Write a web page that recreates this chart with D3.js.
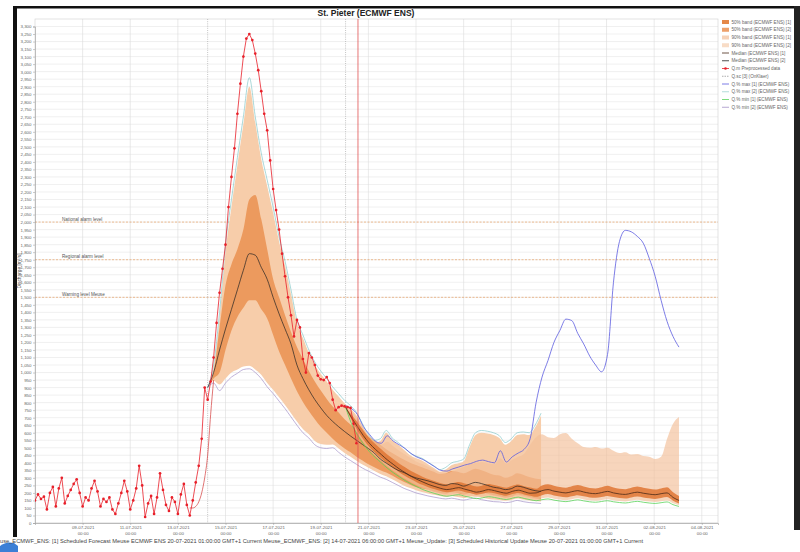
<!DOCTYPE html>
<html>
<head>
<meta charset="utf-8">
<script src="https://cdn.jsdelivr.net/npm/d3@7"></script>
<style>
  body { margin: 0; background: #fff; }
  svg { display: block; font-family: "Liberation Sans", Arial, sans-serif; }
</style>
</head>
<body>
<div id="chart"></div>
<script>
const TITLE = "St. Pieter (ECMWF ENS)";
const Y_LABEL = "Discharge [m³/s]";
// the left end of the status line is hidden behind the window edge in the screenshot
const FOOTER = "use_ECMWF_ENS: [1] Scheduled Forecast Meuse ECMWF ENS 20-07-2021 01:00:00 GMT+1 Current Meuse_ECMWF_ENS: [2] 14-07-2021 06:00:00 GMT+1 Meuse_Update: [3] Scheduled Historical Update Meuse 20-07-2021 01:00:00 GMT+1 Current";

const X_DOMAIN = ["2021-07-07 00:00", "2021-08-04 16:20"];
const X_TICKS = ["2021-07-09", "2021-07-11", "2021-07-13", "2021-07-15", "2021-07-17", "2021-07-19", "2021-07-21",
                 "2021-07-23", "2021-07-25", "2021-07-27", "2021-07-29", "2021-07-31", "2021-08-02", "2021-08-04"];
const Y_MAX = 3300, Y_STEP = 50;

const thresholds = [
  { label: "National alarm level", value: 2000 },
  { label: "Regional alarm level", value: 1750 },
  { label: "Warning level Meuse",  value: 1500 }
];

const FC2_ISSUE = "2021-07-14 06:00";
const FC1_ISSUE = "2021-07-20 01:00";
const NOW = "2021-07-20 13:30";

// observed (preprocessed) discharge, 3-hourly from 07-07 00:00
const OBS_START = "2021-07-07 00:00", OBS_STEP = 3;
const obsQ = [150, 190, 160, 175, 90, 200, 240, 110, 230, 300, 130, 180, 220, 260, 290, 200, 110, 170, 150, 230,
  280, 210, 110, 160, 140, 170, 90, 60, 130, 200, 280, 210, 90, 150, 230, 380, 250, 40, 130, 180,
  60, 170, 330, 220, 120, 80, 170, 140, 60, 190, 260, 120, 50, 150, 270, 380, 560, 900, 820, 940,
  1100, 1330, 1530, 1690, 1850, 2100, 2300, 2490, 2720, 2920, 3100, 3220, 3250, 3210, 3120, 3010, 2870, 2720, 2610, 2410,
  2220, 2080, 1950, 1790, 1640, 1500, 1380, 1240, 1350, 1300, 1090, 1000, 1130, 1100, 1050, 980, 955, 950, 970, 930,
  820, 750, 770, 780, 775, 770, 765, 660, 530];

// simulated run [3] leading into the rise
const SIM_START = "2021-07-13 12:00", SIM_STEP = 3;
const simQ = [100, 100, 110, 140, 200, 300, 450, 720, 950];

// forecast [2] (issued 14-07 06:00), 6-hourly
const FC_STEP = 6;
const f2Max = [900, 1050, 1400, 1850, 2150, 2430, 2700, 2960, 2700, 2460, 2280, 2100, 1900, 1740, 1550, 1350, 1250, 1150, 1070, 1010,
  960, 905, 860, 815, 780, 735, 660, 590, 550, 560, 615, 565, 535, 500, 465, 445, 430, 405, 380, 355,
  370, 400, 410, 425, 520, 600, 615, 610, 600, 580, 535, 560, 600, 605, 600, 650, 730];
const f2P95 = [900, 1030, 1360, 1800, 2100, 2380, 2650, 2900, 2660, 2420, 2240, 2060, 1870, 1710, 1520, 1330, 1230, 1130, 1050, 990,
  940, 885, 840, 795, 760, 715, 645, 575, 535, 545, 600, 550, 520, 485, 450, 430, 415, 390, 365, 340,
  355, 385, 395, 410, 505, 585, 600, 595, 585, 565, 520, 545, 585, 590, 585, 635, 715];
const f2P75 = [900, 1000, 1300, 1580, 1720, 1820, 1950, 2150, 2180, 2020, 1820, 1620, 1500, 1380, 1270, 1170, 1090, 1010, 940, 880,
  825, 775, 735, 690, 655, 625, 600, 575, 548, 520, 490, 465, 442, 420, 400, 385, 370, 355, 340, 325,
  330, 345, 340, 330, 345, 360, 350, 335, 320, 315, 300, 310, 330, 320, 305, 295, 290];
const f2Med = [900, 1000, 1150, 1290, 1420, 1550, 1680, 1790, 1780, 1700, 1620, 1500, 1390, 1290, 1190, 1050, 960, 885, 820, 765,
  715, 675, 640, 608, 578, 550, 522, 495, 465, 425, 398, 372, 350, 335, 315, 300, 290, 280, 268, 255,
  250, 262, 258, 245, 258, 270, 262, 250, 238, 232, 222, 228, 245, 238, 225, 215, 210];
const f2P25 = [900, 960, 1000, 1150, 1280, 1370, 1430, 1480, 1480, 1420, 1360, 1250, 1140, 1050, 960, 875, 805, 745, 690, 640,
  600, 560, 525, 495, 470, 440, 415, 390, 370, 350, 335, 315, 292, 272, 255, 240, 230, 222, 210, 200,
  195, 205, 200, 190, 200, 212, 205, 195, 185, 178, 170, 175, 190, 182, 172, 165, 160];
const f2P5 = [900, 945, 920, 960, 1000, 1020, 1040, 1045, 1020, 985, 930, 885, 835, 785, 730, 675, 625, 590, 545, 525,
  520, 522, 495, 465, 440, 413, 388, 367, 346, 326, 310, 290, 270, 248, 232, 218, 206, 196, 187, 180,
  175, 180, 172, 166, 175, 180, 170, 162, 156, 153, 148, 153, 163, 156, 150, 146, 143];
const f2Min = [900, 930, 880, 930, 970, 995, 1020, 1025, 1000, 960, 905, 860, 810, 760, 705, 650, 600, 565, 520, 500,
  495, 500, 470, 440, 415, 390, 365, 345, 325, 305, 290, 270, 250, 230, 215, 200, 190, 180, 172, 165,
  160, 165, 158, 152, 160, 165, 155, 148, 142, 140, 135, 140, 150, 142, 136, 133, 130];

// forecast [1] (issued 20-07 01:00), 6-hourly
const f1Max = [780, 760, 720, 640, 590, 545, 530, 580, 545, 520, 495, 462, 438, 422, 398, 373, 350, 345, 360, 372,
  385, 395, 410, 418, 408, 400, 480, 405, 440, 465, 490, 560, 800, 970, 1080, 1200, 1280, 1355, 1345, 1260,
  1190, 1110, 1050, 1005, 1120, 1600, 1870, 1945, 1935, 1905, 1860, 1760, 1640, 1480, 1340, 1240, 1169];
const f1P95 = [770, 740, 690, 630, 580, 540, 520, 540, 510, 480, 455, 430, 405, 390, 370, 350, 335, 330, 345, 360,
  375, 390, 400, 405, 395, 390, 430, 395, 420, 440, 460, 520, 570, 590, 570, 565, 590, 598, 560, 530,
  505, 500, 505, 495, 500, 480, 465, 470, 455, 458, 445, 440, 425, 440, 560, 660, 705];
const f1P75 = [770, 720, 670, 615, 565, 525, 490, 455, 425, 395, 370, 345, 325, 305, 290, 278, 265, 258, 265, 272,
  262, 252, 242, 250, 260, 252, 242, 235, 248, 256, 245, 236, 228, 250, 258, 248, 240, 235, 244, 252,
  242, 233, 230, 238, 247, 236, 228, 225, 234, 242, 234, 227, 222, 230, 238, 205, 180];
const f1Med = [770, 700, 640, 580, 530, 490, 455, 420, 390, 360, 335, 310, 290, 272, 255, 242, 230, 222, 228, 235,
  225, 215, 205, 212, 222, 215, 205, 198, 210, 218, 208, 198, 200, 215, 222, 212, 205, 200, 208, 215,
  206, 198, 195, 202, 210, 200, 193, 190, 198, 205, 198, 192, 188, 195, 200, 170, 150];
const f1P25 = [770, 685, 615, 555, 505, 465, 430, 395, 365, 338, 312, 290, 270, 252, 236, 224, 212, 204, 210, 216,
  206, 197, 188, 194, 203, 197, 188, 181, 192, 200, 190, 181, 174, 185, 192, 183, 176, 171, 178, 185,
  177, 170, 167, 173, 180, 172, 166, 163, 170, 176, 170, 164, 160, 166, 172, 148, 130];
const f1P5 = [770, 670, 595, 535, 485, 445, 410, 375, 345, 318, 292, 270, 250, 232, 218, 206, 195, 188, 193, 198,
  188, 180, 172, 177, 185, 180, 172, 166, 175, 182, 173, 165, 158, 165, 170, 162, 156, 152, 158, 164,
  157, 151, 148, 153, 158, 151, 146, 143, 149, 154, 148, 143, 140, 145, 150, 132, 118];
const f1Min = [770, 660, 585, 525, 475, 435, 400, 365, 335, 308, 282, 260, 240, 222, 208, 196, 185, 178, 183, 188,
  178, 170, 162, 167, 175, 170, 162, 156, 165, 172, 163, 155, 148, 155, 160, 152, 146, 142, 148, 154,
  147, 141, 138, 143, 148, 141, 136, 133, 139, 144, 138, 133, 130, 135, 140, 122, 110];

const legendItems = [
  { label: "50% band (ECMWF ENS) [1]", kind: "rect", color: "#e58848" },
  { label: "50% band (ECMWF ENS) [2]", kind: "rect", color: "#eda06a" },
  { label: "90% band (ECMWF ENS) [1]", kind: "rect", color: "#f6d2b8" },
  { label: "90% band (ECMWF ENS) [2]", kind: "rect", color: "#f8dcc6" },
  { label: "Median (ECMWF ENS) [1]",   kind: "line", color: "#4a2a18" },
  { label: "Median (ECMWF ENS) [2]",   kind: "line", color: "#222" },
  { label: "Q.m Preprocessed data",    kind: "dot",  color: "#e8202a" },
  { label: "Q.sc [3] (OnKlaer)",       kind: "dash", color: "#999" },
  { label: "Q.% max [1] (ECMWF ENS)",  kind: "line", color: "#5c5ce0" },
  { label: "Q.% max [2] (ECMWF ENS)",  kind: "line", color: "#9fd3d0" },
  { label: "Q.% min [1] (ECMWF ENS)",  kind: "line", color: "#5ad35a" },
  { label: "Q.% min [2] (ECMWF ENS)",  kind: "line", color: "#a592c8" }
];

// ---- helpers ----
const parse = d3.timeParse("%Y-%m-%d %H:%M");
const parseDay = d3.timeParse("%Y-%m-%d");
const toSeries = (start, stepH, vals) => {
  const t0 = parse(start);
  return vals.map((v, i) => ({ t: d3.timeHour.offset(t0, i * stepH), v }));
};
const toBand = (start, stepH, lo, hi) => {
  const t0 = parse(start);
  return lo.map((v, i) => ({ t: d3.timeHour.offset(t0, i * stepH), lo: v, hi: hi[i] }));
};

// ---- layout ----
const W = 800, H = 552;
const plot = { left: 35, right: 718, top: 19, bottom: 523 };

const svg = d3.select("#chart").append("svg").attr("width", W).attr("height", H);

const x = d3.scaleTime().domain(X_DOMAIN.map(parse)).range([plot.left, plot.right]);
const y = d3.scaleLinear().domain([0, Y_MAX]).range([plot.bottom, 26.5]);

svg.append("defs").append("clipPath").attr("id", "clip")
  .append("rect")
    .attr("x", plot.left).attr("y", plot.top)
    .attr("width", plot.right - plot.left).attr("height", plot.bottom - plot.top);

// window frame (screenshot edges)
svg.append("rect").attr("x", 13).attr("y", 6).attr("width", 787).attr("height", 2.5).attr("fill", "#111");
svg.append("rect").attr("x", 13).attr("y", 6).attr("width", 4).attr("height", 531).attr("fill", "#111");
svg.append("rect").attr("x", 794).attr("y", 6).attr("width", 6).attr("height", 524).attr("fill", "#222");
svg.append("path")
  .attr("d", "M0,552 L0,546 Q6,541 14,543 L18,546 L18,552 Z")
  .attr("fill", "#3b7fd6");

// title
svg.append("text")
  .attr("x", 366).attr("y", 15.5)
  .attr("text-anchor", "middle")
  .style("font-size", "8.5px").style("font-weight", "bold").style("fill", "#222")
  .text(TITLE);

// grid
const yTicks = d3.range(0, Y_MAX + 1, Y_STEP);
const xTicks = X_TICKS.map(parseDay);
const grid = svg.append("g");
grid.selectAll("line.h").data(yTicks).enter().append("line")
  .attr("x1", plot.left).attr("x2", plot.right)
  .attr("y1", d => y(d)).attr("y2", d => y(d))
  .attr("stroke", "#e6e6e6").attr("stroke-width", 0.6);
grid.selectAll("line.v").data(xTicks).enter().append("line")
  .attr("x1", d => x(d)).attr("x2", d => x(d))
  .attr("y1", plot.top).attr("y2", plot.bottom)
  .attr("stroke", "#dcdcdc").attr("stroke-width", 0.6);

// plot frame
svg.append("rect")
  .attr("x", plot.left).attr("y", plot.top)
  .attr("width", plot.right - plot.left).attr("height", plot.bottom - plot.top)
  .attr("fill", "none").attr("stroke", "#cfcfcf").attr("stroke-width", 0.6);

// threshold lines
const thr = svg.append("g");
thr.selectAll("line").data(thresholds).enter().append("line")
  .attr("x1", plot.left).attr("x2", plot.right)
  .attr("y1", d => y(d.value)).attr("y2", d => y(d.value))
  .attr("stroke", "#e8a064").attr("stroke-width", 0.7).attr("stroke-dasharray", "2,1.5");
thr.selectAll("text").data(thresholds).enter().append("text")
  .attr("x", 62).attr("y", d => y(d.value) - 1.5)
  .style("font-size", "4.6px").style("fill", "#555")
  .text(d => d.label);

// axes
const yAxis = svg.append("g")
  .attr("transform", `translate(${plot.left},0)`)
  .call(d3.axisLeft(y).tickValues(yTicks).tickFormat(d3.format(",")).tickSize(2).tickPadding(1.5));
yAxis.select(".domain").attr("stroke", "#999").attr("stroke-width", 0.6);
yAxis.selectAll(".tick line").attr("stroke", "#999").attr("stroke-width", 0.5);
yAxis.selectAll("text").style("font-size", "4.4px").style("fill", "#666").attr("font-family", null);

const xAxis = svg.append("g")
  .attr("transform", `translate(0,${plot.bottom})`)
  .call(d3.axisBottom(x).tickValues(xTicks).tickSize(2).tickFormat(""));
xAxis.select(".domain").attr("stroke", "#999").attr("stroke-width", 0.6);
xAxis.selectAll(".tick line").attr("stroke", "#999").attr("stroke-width", 0.5);
const fmtDay = d3.timeFormat("%d-%m-%Y"), fmtHour = d3.timeFormat("%H:%M");
const xl = xAxis.selectAll(".tick").append("text")
  .attr("text-anchor", "middle").attr("fill", "#666")
  .style("font-size", "4.4px");
xl.append("tspan").attr("x", 0).attr("y", 6).text(d => fmtDay(d));
xl.append("tspan").attr("x", 0).attr("y", 11.5).text(d => fmtHour(d));

svg.append("text")
  .attr("transform", `translate(20.5,${(plot.top + plot.bottom) / 2}) rotate(-90)`)
  .attr("text-anchor", "middle")
  .style("font-size", "4.8px").style("fill", "#555")
  .text(Y_LABEL);

// issue markers
svg.selectAll("line.issue").data([FC2_ISSUE, FC1_ISSUE].map(parse)).enter().append("line")
  .attr("x1", d => x(d)).attr("x2", d => x(d))
  .attr("y1", plot.top).attr("y2", plot.bottom)
  .attr("stroke", "#aaa").attr("stroke-width", 0.7).attr("stroke-dasharray", "1,1.2");

// bands and lines
const g = svg.append("g").attr("clip-path", "url(#clip)");
const area = d3.area().x(d => x(d.t)).y0(d => y(d.lo)).y1(d => y(d.hi)).curve(d3.curveMonotoneX);
const line = d3.line().x(d => x(d.t)).y(d => y(d.v)).curve(d3.curveMonotoneX);

g.append("path").datum(toBand(FC2_ISSUE, FC_STEP, f2P5, f2P95))
  .attr("d", area).attr("fill", "#f7cdaa");
g.append("path").datum(toBand(FC2_ISSUE, FC_STEP, f2P25, f2P75))
  .attr("d", area).attr("fill", "#ec9a5e");
g.append("path").datum(toBand(FC1_ISSUE, FC_STEP, f1P5, f1P95))
  .attr("d", area).attr("fill", "#f3bf98").attr("fill-opacity", 0.65);
g.append("path").datum(toBand(FC1_ISSUE, FC_STEP, f1P25, f1P75))
  .attr("d", area).attr("fill", "#df7634").attr("fill-opacity", 0.85);

const lines = [
  { start: FC2_ISSUE, vals: f2Min, color: "#a592c8", w: 0.7 },
  { start: FC2_ISSUE, vals: f2Max, color: "#86c8c8", w: 0.7 },
  { start: FC2_ISSUE, vals: f2Med, color: "#222",    w: 0.7 },
  { start: FC1_ISSUE, vals: f1Min, color: "#5ad35a", w: 0.8 },
  { start: FC1_ISSUE, vals: f1Med, color: "#4a2a18", w: 0.8 },
  { start: FC1_ISSUE, vals: f1Max, color: "#5c5ce0", w: 0.8 }
];
lines.forEach(l => {
  g.append("path").datum(toSeries(l.start, FC_STEP, l.vals))
    .attr("d", line).attr("fill", "none")
    .attr("stroke", l.color).attr("stroke-width", l.w);
});

// simulated
g.append("path").datum(toSeries(SIM_START, SIM_STEP, simQ))
  .attr("d", line).attr("fill", "none").attr("stroke", "#d23a3a").attr("stroke-width", 0.7);

// observed
const obs = toSeries(OBS_START, OBS_STEP, obsQ);
g.append("path").datum(obs)
  .attr("d", d3.line().x(d => x(d.t)).y(d => y(d.v)))
  .attr("fill", "none").attr("stroke", "#e8202a").attr("stroke-width", 0.8);
g.selectAll("circle.obs").data(obs).enter().append("circle")
  .attr("cx", d => x(d.t)).attr("cy", d => y(d.v)).attr("r", 1.35)
  .attr("fill", "#e8202a");

// current time
svg.append("line")
  .attr("x1", x(parse(NOW))).attr("x2", x(parse(NOW)))
  .attr("y1", plot.top).attr("y2", plot.bottom)
  .attr("stroke", "#e05050").attr("stroke-width", 0.8);

// legend
const lg = svg.append("g").attr("transform", "translate(722,23)");
const row = lg.selectAll("g").data(legendItems).enter().append("g")
  .attr("transform", (d, i) => `translate(0,${i * 7.75})`);
row.filter(d => d.kind === "rect").append("rect")
  .attr("x", 0).attr("y", -3).attr("width", 7).attr("height", 4).attr("fill", d => d.color);
row.filter(d => d.kind !== "rect").append("line")
  .attr("x1", 0).attr("x2", 7).attr("y1", -1).attr("y2", -1)
  .attr("stroke", d => d.color).attr("stroke-width", 0.8)
  .attr("stroke-dasharray", d => d.kind === "dash" ? "1.5,1" : null);
row.filter(d => d.kind === "dot").append("circle")
  .attr("cx", 3.5).attr("cy", -1).attr("r", 1.3).attr("fill", d => d.color);
row.append("text")
  .attr("x", 9.5).attr("y", 0.6)
  .style("font-size", "4.6px").style("fill", "#666")
  .text(d => d.label);

// footer
svg.append("text")
  .attr("x", 0).attr("y", 543)
  .attr("textLength", 643).attr("lengthAdjust", "spacingAndGlyphs")
  .style("font-size", "5.6px").style("fill", "#444")
  .text(FOOTER);
</script>
</body>
</html>
